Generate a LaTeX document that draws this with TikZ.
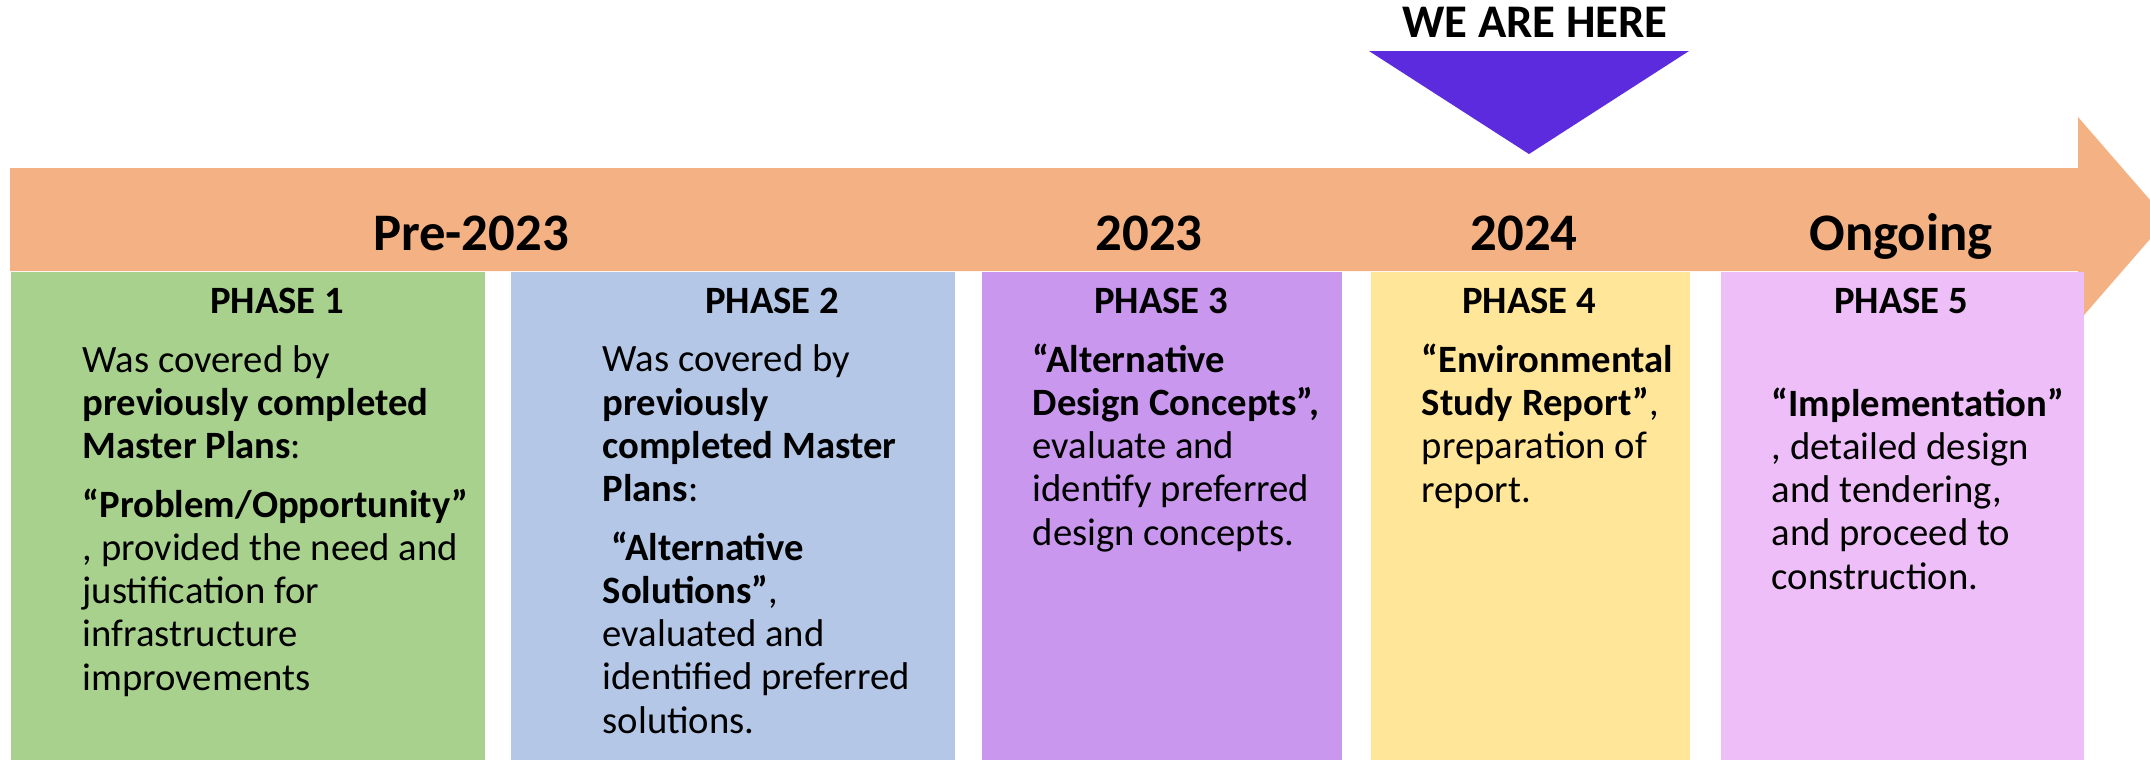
\documentclass[tikz,border=0pt]{standalone}
\usepackage{fontspec}
\setmainfont{Carlito}
\definecolor{bandcol}{RGB}{244,177,131}
\definecolor{herecol}{RGB}{91,43,221}
\definecolor{p1col}{RGB}{169,209,142}
\definecolor{p2col}{RGB}{180,199,231}
\definecolor{p3col}{RGB}{201,151,237}
\definecolor{p4col}{RGB}{255,230,153}
\definecolor{p5col}{RGB}{237,190,247}

\begin{document}
\begin{tikzpicture}[
  x=0.01cm, y=-0.01cm,
  yearLabel/.style={anchor=base, inner sep=0pt, font=\fontsize{15}{18}\selectfont\bfseries},
  hereLabel/.style={anchor=base, inner sep=0pt, font=\fontsize{13.3}{16}\selectfont\bfseries},
  phaseBox/.style={anchor=north west, inner sep=0pt, minimum height=4.88cm},
  phaseTitle/.style={anchor=base, inner sep=0pt, font=\fontsize{11}{13}\selectfont\bfseries},
  phaseText/.style={anchor=base west, inner sep=0pt, align=left,
                    font=\fontsize{11}{12.3}\selectfont},
]
\useasboundingbox (0,0) rectangle (2150,759);
\clip (0,0) rectangle (2150,759);

% --- Timeline arrow ---
\fill[bandcol] (10,168) -- (2078,168) -- (2078,117) -- (2167,219.5)
  -- (2078,322) -- (2078,271) -- (10,271) -- cycle;

% --- Year labels on the arrow ---
\node[yearLabel] (Y0) at (471,250) {Pre-2023};
\node[yearLabel] (Y1) at (1149,250) {2023};
\node[yearLabel] (Y2) at (1524,250) {2024};
\node[yearLabel] (Y3) at (1901,250) {Ongoing};

% --- Current position marker ---
\node[hereLabel] (here) at (1535,37) {WE ARE HERE};
\fill[herecol] (1369,51) -- (1689,51) -- (1529,154) -- cycle;

% --- Phase columns ---
\node[phaseBox, fill=p1col, minimum width=4.74cm] (P1) at (10,271) {};
\node[phaseBox, fill=p2col, minimum width=4.44cm] (P2) at (510,271) {};
\node[phaseBox, fill=p3col, minimum width=3.60cm] (P3) at (981,271) {};
\node[phaseBox, fill=p4col, minimum width=3.19cm] (P4) at (1370,271) {};
\node[phaseBox, fill=p5col, minimum width=3.63cm] (P5) at (1720,271) {};

\node[phaseTitle] (T1) at (277,313) {PHASE 1};
\node[phaseTitle] (T2) at (772,313) {PHASE 2};
\node[phaseTitle] (T3) at (1161,313) {PHASE 3};
\node[phaseTitle] (T4) at (1529,313) {PHASE 4};
\node[phaseTitle] (T5) at (1901,313) {PHASE 5};

% --- Phase descriptions (placed at the baseline of their last line) ---
\node[phaseText] (D1) at (82,690) {Was covered by\\
  \textbf{previously completed}\\
  \textbf{Master Plans}:\\[4.3pt]
  \textbf{“Problem/Opportunity”}\\
  , provided the need and\\
  justification for\\
  infrastructure\\
  improvements};
\node[phaseText] (D2) at (602,733) {Was covered by\\
  \textbf{previously}\\
  \textbf{completed Master}\\
  \textbf{Plans}:\\[4.3pt]
  \hspace*{.23em}\textbf{“Alternative}\\
  \textbf{Solutions”},\\
  evaluated and\\
  identified preferred\\
  solutions.};
\node[phaseText] (D3) at (1032,545) {\textbf{“Alternative}\\
  \textbf{Design Concepts”,}\\
  evaluate and\\
  identify preferred\\
  design concepts.};
\node[phaseText] (D4) at (1421,502) {\textbf{“Environmental}\\
  \textbf{Study Report”},\\
  preparation of\\
  report.};
\node[phaseText] (D5) at (1771,589) {\textbf{“Implementation”}\\
  , detailed design\\
  and tendering,\\
  and proceed to\\
  construction.};

\end{tikzpicture}
\end{document}
